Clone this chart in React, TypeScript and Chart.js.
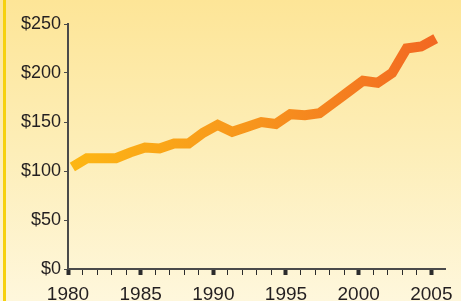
import React, { useEffect, useRef } from "react";
import { Chart, registerables } from "chart.js";

Chart.register(...registerables);

const years = [1980, 1981, 1982, 1983, 1984, 1985, 1986, 1987, 1988, 1989, 1990, 1991, 1992, 1993, 1994, 1995, 1996, 1997, 1998, 1999, 2000, 2001, 2002, 2003, 2004, 2005];
const values = [104, 113, 113, 113, 119, 124, 123, 128, 128, 139, 147, 140, 145, 150, 148, 158, 157, 159, 170, 181, 192, 190, 200, 225, 227, 235];
const yTicks = [0, 50, 100, 150, 200, 250];
const xLabelYears = [1980, 1985, 1990, 1995, 2000, 2005];
const PLOT_OFFSET = 0.3; // values plotted slightly after the year tick, as in the source

export default function App() {
  const ref = useRef<HTMLCanvasElement | null>(null);

  useEffect(() => {
    document.body.style.margin = "0";
    const canvas = ref.current!;
    const textColor = "#231f20";
    const axisColor = "#4a4a4a";
    const font = { family: "'Liberation Sans', Arial, sans-serif", size: 18 };
    const xFont = { family: "'Liberation Sans', Arial, sans-serif", size: 19 };

    const chart = new Chart(canvas, {
      type: "line",
      data: {
        datasets: [
          {
            data: years.map((y, i) => ({ x: y + PLOT_OFFSET, y: values[i] })),
            borderWidth: 10,
            borderCapStyle: "butt",
            borderJoinStyle: "miter",
            pointRadius: 0,
            tension: 0,
            fill: false,
            borderColor: (ctx: any) => {
              const area = ctx.chart.chartArea;
              if (!area) return "#f7941d";
              const g = ctx.chart.ctx.createLinearGradient(area.left, 0, area.right, 0);
              g.addColorStop(0, "#fdb714");
              g.addColorStop(0.5, "#f7941d");
              g.addColorStop(1, "#f26522");
              return g;
            },
          },
        ],
      },
      options: {
        responsive: false,
        animation: false,
        layout: { padding: { top: 24, right: 14, left: 0, bottom: 0 } },
        plugins: { legend: { display: false }, tooltip: { enabled: false } },
        scales: {
          x: {
            type: "linear",
            min: 1980,
            max: 2006,
            afterBuildTicks: (scale: any) => {
              const t = [];
              for (let v = 1980; v <= 2005; v++) t.push({ value: v });
              scale.ticks = t;
            },
            afterFit: (scale: any) => {
              scale.height = 32;
            },
            ticks: {
              autoSkip: false,
              maxRotation: 0,
              padding: 8,
              color: textColor,
              font: xFont,
              callback: (v: any) => (xLabelYears.includes(Number(v)) ? String(v) : ""),
            },
            grid: {
              drawOnChartArea: false,
              tickLength: 6,
              tickColor: "#2b2b2b",
              tickWidth: (ctx: any) => (ctx.tick && xLabelYears.includes(ctx.tick.value) ? 4 : 1),
            },
            border: { display: true, color: axisColor, width: 2 },
          },
          y: {
            min: 0,
            max: 250,
            afterBuildTicks: (scale: any) => {
              scale.ticks = yTicks.map((v) => ({ value: v }));
            },
            afterFit: (scale: any) => {
              scale.width = 68;
            },
            ticks: {
              padding: 3,
              color: textColor,
              font,
              callback: (v: any) => "$" + v,
            },
            grid: {
              drawOnChartArea: false,
              tickLength: 4,
              tickColor: axisColor,
              tickWidth: 1,
            },
            border: { display: true, color: axisColor, width: 2 },
          },
        },
      },
    });
    return () => chart.destroy();
  }, []);

  return (
    <div
      style={{
        position: "relative",
        width: 461,
        height: 301,
        background: "linear-gradient(to bottom, #fde597 0%, #fdeeb8 50%, #fef7dc 100%)",
        overflow: "hidden",
      }}
    >
      <div style={{ position: "absolute", left: 3, top: 0, width: 3, height: 301, background: "#f6d10f" }} />
      <canvas ref={ref} width={461} height={301} style={{ position: "absolute", left: 0, top: 0 }} />
    </div>
  );
}
